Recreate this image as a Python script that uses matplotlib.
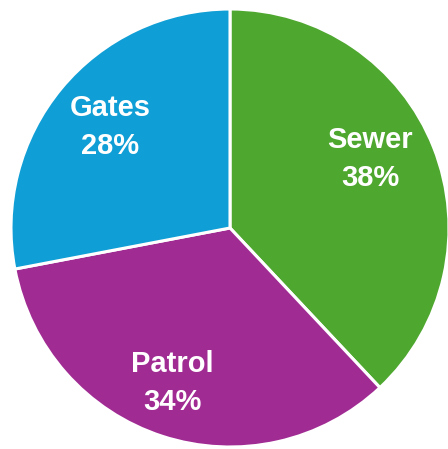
import matplotlib
matplotlib.use("Agg")
import matplotlib.pyplot as plt

categories = ["Sewer", "Patrol", "Gates"]
values = [38, 34, 28]
colors = ["#4EA72E", "#A02B93", "#0F9ED5"]

fig = plt.figure(figsize=(4.48, 4.49), dpi=100)
ax = fig.add_axes([0, 0, 1, 1])

def make_label(pct, _it=iter(categories)):
    return f"{next(_it)}\n{pct:.0f}%"

wedges, texts, autotexts = ax.pie(
    values, colors=colors, startangle=90, counterclock=False,
    autopct=make_label, pctdistance=0.73, radius=1.0,
    wedgeprops=dict(edgecolor="white", linewidth=2.2),
    textprops=dict(color="white", fontsize=21, fontweight="bold",
                   family="Liberation Sans", linespacing=1.5),
)

cx, cy, r = 230, 228, 219
ax.set_xlim(-cx / r, (448 - cx) / r)
ax.set_ylim(-(449 - cy) / r, cy / r)
ax.set_aspect("auto")
ax.axis("off")

# label placement (pixel centres in the figure, top-left origin)
label_px = [(370, 159), (172, 383), (110, 127)]
for t, (px, py) in zip(autotexts, label_px):
    t.set_position(((px - cx) / r, (cy - py) / r))
    t.set_ha("center")
    t.set_va("center")

fig.savefig("out.png", dpi=100)
